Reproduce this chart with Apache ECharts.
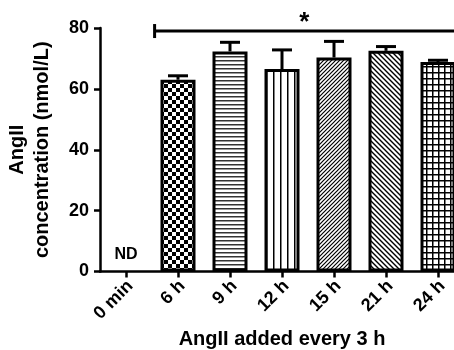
<!DOCTYPE html>
<html>
<head>
<meta charset="utf-8">
<script src="https://cdn.jsdelivr.net/npm/echarts@6/dist/echarts.min.js"></script>
<style>html,body{margin:0;padding:0;background:#fff}#c{width:454px;height:350px}</style>
</head>
<body>
<div id="c"></div>
<script>
var categories = ['0 min', '6 h', '9 h', '12 h', '15 h', '21 h', '24 h'];
var means = [null, 63, 72.3, 66.5, 70.3, 72.5, 68.8];
var errors = [null, 1.3, 3.0, 6.3, 5.3, 1.4, 0.6];
var yTicks = [0, 20, 40, 60, 80];
var sigLevel = 79;

function makePattern(type) {
  var c = document.createElement('canvas');
  var ctx = c.getContext('2d');
  var s;
  if (type === 'checker') {
    s = 8; c.width = s; c.height = s;
    ctx.fillStyle = '#fff'; ctx.fillRect(0, 0, s, s);
    ctx.fillStyle = '#000'; ctx.fillRect(0, 0, 4, 4); ctx.fillRect(4, 4, 4, 4);
  } else if (type === 'hlines') {
    s = 4; c.width = s; c.height = s;
    ctx.fillStyle = '#fff'; ctx.fillRect(0, 0, s, s);
    ctx.fillStyle = '#333'; ctx.fillRect(0, 0, s, 1.5);
  } else if (type === 'vlines') {
    s = 7; c.width = s; c.height = s;
    ctx.fillStyle = '#fff'; ctx.fillRect(0, 0, s, s);
    ctx.fillStyle = '#000'; ctx.fillRect(0, 0, 1.5, s);
  } else if (type === 'diagR') {
    s = 4; c.width = s; c.height = s;
    ctx.fillStyle = '#fff'; ctx.fillRect(0, 0, s, s);
    ctx.strokeStyle = '#000'; ctx.lineWidth = 1.2;
    ctx.beginPath();
    ctx.moveTo(0, s); ctx.lineTo(s, 0);
    ctx.moveTo(-1, 1); ctx.lineTo(1, -1);
    ctx.moveTo(s - 1, s + 1); ctx.lineTo(s + 1, s - 1);
    ctx.stroke();
  } else if (type === 'diagL') {
    s = 5; c.width = s; c.height = s;
    ctx.fillStyle = '#fff'; ctx.fillRect(0, 0, s, s);
    ctx.strokeStyle = '#000'; ctx.lineWidth = 1.4;
    ctx.beginPath();
    ctx.moveTo(0, 0); ctx.lineTo(s, s);
    ctx.moveTo(-1, s - 1); ctx.lineTo(1, s + 1);
    ctx.moveTo(s - 1, -1); ctx.lineTo(s + 1, 1);
    ctx.stroke();
  } else {
    s = 6; c.width = s; c.height = s;
    ctx.fillStyle = '#fff'; ctx.fillRect(0, 0, s, s);
    ctx.fillStyle = '#000'; ctx.fillRect(0, 0, 1.5, s); ctx.fillRect(0, 0, s, 1.5);
  }
  return { image: c, repeat: 'repeat' };
}
var patternTypes = [null, 'checker', 'hlines', 'vlines', 'diagR', 'diagL', 'grid'];

var font = 'Liberation Sans, Arial, sans-serif';
var chart = echarts.init(document.getElementById('c'), null, { renderer: 'canvas' });

var barData = means.map(function (v, i) {
  if (v === null) return { value: null };
  return { value: v, itemStyle: { color: makePattern(patternTypes[i]) } };
});
var errData = means.map(function (v, i) { return [i, v, errors[i]]; }).filter(function (d) { return d[1] !== null; });

var option = {
  animation: false,
  backgroundColor: '#fff',
  grid: { left: 100, right: -10, top: 28, bottom: 78.5, containLabel: false, outerBoundsMode: 'none' },
  xAxis: {
    type: 'category',
    data: categories,
    axisLine: { lineStyle: { color: '#000', width: 2.5 } },
    axisTick: { show: true, alignWithLabel: true, length: 6, lineStyle: { color: '#000', width: 2.5 } },
    axisLabel: { rotate: 45, color: '#000', fontFamily: font, fontWeight: 'bold', fontSize: 18, margin: 16, interval: 0, padding: [0, -6, 0, 0] },
    name: 'AngII added every 3 h',
    nameLocation: 'middle',
    nameGap: 52,
    nameTextStyle: { color: '#000', fontFamily: font, fontWeight: 'bold', fontSize: 20 }
  },
  yAxis: {
    type: 'value',
    min: yTicks[0], max: yTicks[yTicks.length - 1], interval: 20,
    axisLine: { show: true, lineStyle: { color: '#000', width: 2.5 } },
    axisTick: { show: true, length: 6, lineStyle: { color: '#000', width: 2.5 } },
    splitLine: { show: false },
    axisLabel: { color: '#000', fontFamily: font, fontWeight: 'bold', fontSize: 18, margin: 11 },
    name: 'AngII\nconcentration (nmol/L)',
    nameLocation: 'middle',
    nameGap: 45,
    nameRotate: 90,
    nameTextStyle: { color: '#000', fontFamily: font, fontWeight: 'bold', fontSize: 20, lineHeight: 25 }
  },
  series: [
    {
      type: 'custom',
      z: 1,
      renderItem: function (params, api) {
        var i = api.value(0);
        var top = api.coord([i, api.value(1)]);
        var cap = api.coord([i, api.value(1) + api.value(2)]);
        var st = { stroke: '#000', lineWidth: 3, fill: null };
        return {
          type: 'group',
          children: [
            { type: 'line', shape: { x1: top[0], y1: top[1], x2: cap[0], y2: cap[1] }, style: st },
            { type: 'line', shape: { x1: cap[0] - 10, y1: cap[1], x2: cap[0] + 10, y2: cap[1] }, style: st }
          ]
        };
      },
      data: errData
    },
    {
      type: 'bar',
      z: 2,
      barWidth: 35,
      itemStyle: { borderColor: '#000', borderWidth: 3 },
      data: barData,
      label: { show: false }
    },
    {
      type: 'custom',
      z: 3,
      renderItem: function (params, api) {
        var a = api.coord([1, sigLevel]);
        var b = api.coord([categories.length - 1, sigLevel]);
        var band = api.size([1, 0])[0];
        var x1 = a[0] - band * 0.45;
        var x2 = b[0] + band * 0.5;
        var st = { stroke: '#000', lineWidth: 3 };
        return {
          type: 'group',
          children: [
            { type: 'line', shape: { x1: x1, y1: a[1], x2: x2, y2: a[1] }, style: st },
            { type: 'line', shape: { x1: x1, y1: a[1] - 7, x2: x1, y2: a[1] + 7 }, style: st },
            { type: 'text', style: { text: '*', x: (x1 + 454) / 2, y: a[1] + 5, align: 'center', verticalAlign: 'bottom', fill: '#000', font: 'bold 26px ' + font } }
          ]
        };
      },
      data: [[1, sigLevel]]
    },
    {
      type: 'custom',
      z: 3,
      renderItem: function (params, api) {
        var p = api.coord([api.value(0), api.value(1)]);
        return { type: 'text', style: { text: 'ND', x: p[0], y: p[1], align: 'center', verticalAlign: 'bottom', fill: '#000', font: 'bold 16px ' + font } };
      },
      data: [[0, 3]]
    }
  ]
};
chart.setOption(option);
</script>
</body>
</html>
